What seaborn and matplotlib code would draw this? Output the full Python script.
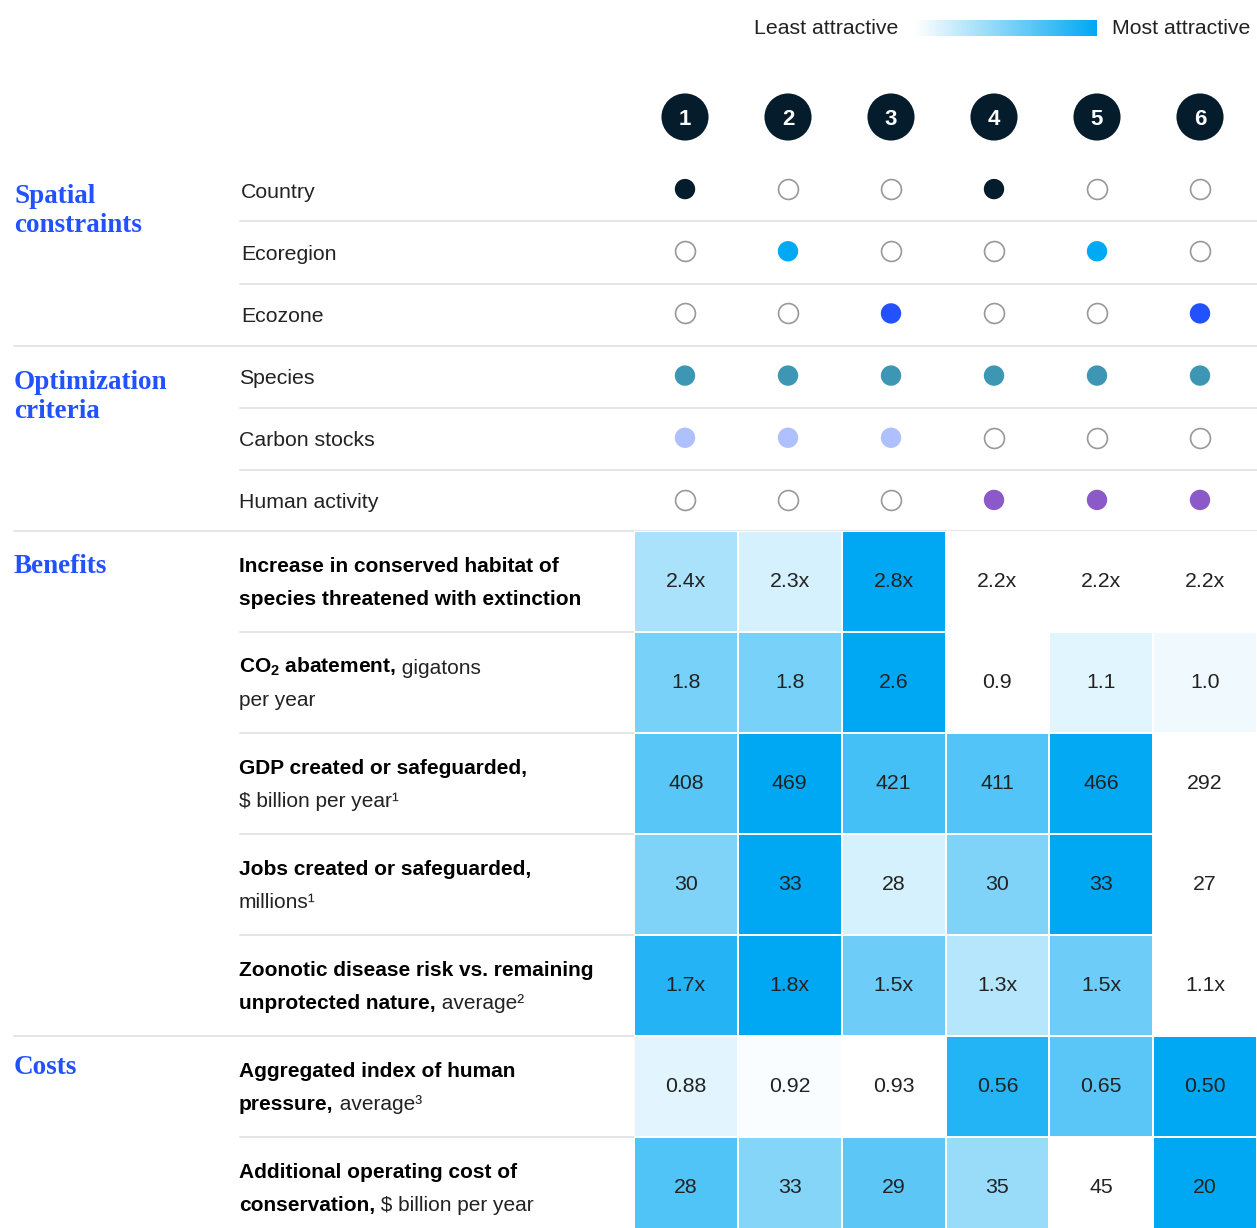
import numpy as np
import pandas as pd
import matplotlib
matplotlib.use('Agg')
import matplotlib.pyplot as plt
from matplotlib.colors import LinearSegmentedColormap
import seaborn as sns

# ---- data -------------------------------------------------------------
scenarios = ['1', '2', '3', '4', '5', '6']

dot_rows = ['Country', 'Ecoregion', 'Ecozone', 'Species', 'Carbon stocks', 'Human activity']
dot_colors = ['#051c2c', '#00a9f4', '#2251ff', '#3c96b4', '#afc0ff', '#8c5ac8']
dot_on = [
    [1, 0, 0, 1, 0, 0],
    [0, 1, 0, 0, 1, 0],
    [0, 0, 1, 0, 0, 1],
    [1, 1, 1, 1, 1, 1],
    [1, 1, 1, 0, 0, 0],
    [0, 0, 0, 1, 1, 1],
]

habitat = [2.4, 2.3, 2.8, 2.2, 2.2, 2.2]
co2 = [1.8, 1.8, 2.6, 0.9, 1.1, 1.0]
gdp = [408, 469, 421, 411, 466, 292]
jobs = [30, 33, 28, 30, 33, 27]
zoonotic = [1.7, 1.8, 1.5, 1.3, 1.5, 1.1]
pressure = [0.88, 0.92, 0.93, 0.56, 0.65, 0.50]
op_cost = [28, 33, 29, 35, 45, 20]

metric_values = [habitat, co2, gdp, jobs, zoonotic, pressure, op_cost]
metric_fmt = ['{:.1f}x', '{:.1f}', '{:.0f}', '{:.0f}', '{:.1f}x', '{:.2f}', '{:.0f}']
# benefits: higher is more attractive; costs: lower is more attractive
metric_higher_better = [True, True, True, True, True, False, False]

# each label: two lines of (bold part, regular part)
metric_labels = [
    [('Increase in conserved habitat of', ''),
     ('species threatened with extinction', '')],
    [(r'$\mathbf{CO_2}$ abatement,', ' gigatons'), ('', 'per year')],
    [('GDP created or safeguarded,', ''), ('', '$ billion per year¹')],
    [('Jobs created or safeguarded,', ''), ('', 'millions¹')],
    [('Zoonotic disease risk vs. remaining', ''),
     ('unprotected nature,', ' average²')],
    [('Aggregated index of human', ''), ('pressure,', ' average³')],
    [('Additional operating cost of', ''),
     ('conservation,', ' $ billion per year')],
]

# ---- style ------------------------------------------------------------
sns.set_theme(style='white')
plt.rcParams['font.family'] = ['Liberation Sans', 'DejaVu Sans']
plt.rcParams['mathtext.fontset'] = 'custom'
plt.rcParams['mathtext.rm'] = 'Liberation Sans'
plt.rcParams['mathtext.it'] = 'Liberation Sans:italic'
plt.rcParams['mathtext.bf'] = 'Liberation Sans:bold'

W, H = 1257, 1228
TXT = '#222222'
BLUE = '#2251ff'
GRID = '#e3e3e3'
cmap = LinearSegmentedColormap.from_list('attr', ['#ffffff', '#00a8f3'])

fig = plt.figure(figsize=(W / 100, H / 100), dpi=100)
fig.patch.set_facecolor('white')


def px_axes(x0, y0, x1, y1):
    # axes placed by pixel box (top-left origin)
    return fig.add_axes([x0 / W, 1 - y1 / H, (x1 - x0) / W, (y1 - y0) / H])


bg = px_axes(0, 0, W, H)
bg.set_xlim(0, W)
bg.set_ylim(H, 0)
bg.axis('off')

# ---- separators -------------------------------------------------------
for y, x0 in [(221, 240), (284, 240), (346, 14), (408, 240), (470, 240), (531, 14)]:
    bg.plot([x0, W], [y, y], color=GRID, lw=1.3, zorder=0)
cell_h = 101
hm_top = 531
for i in range(1, len(metric_values)):
    y = hm_top + i * cell_h
    x0 = 14 if i == 5 else 240
    bg.plot([x0, 636], [y, y], color=GRID, lw=1.3, zorder=0)

# ---- legend -----------------------------------------------------------
bg.text(898, 28, 'Least attractive', ha='right', va='center', fontsize=15.3, color=TXT)
bg.text(1112, 28, 'Most attractive', ha='left', va='center', fontsize=15.3, color=TXT)
lax = px_axes(915, 20, 1097, 36)
lax.imshow(np.linspace(0, 1, 256)[None, :], aspect='auto', cmap=cmap)
lax.axis('off')

# ---- group labels -----------------------------------------------------
serif = dict(family='Liberation Serif', fontweight='bold', fontsize=19.5, color=BLUE,
             ha='left', va='baseline')
bg.text(14, 203, 'Spatial', **serif)
bg.text(14, 232, 'constraints', **serif)
bg.text(14, 389, 'Optimization', **serif)
bg.text(14, 418, 'criteria', **serif)
bg.text(14, 573, 'Benefits', **serif)
bg.text(14, 1074, 'Costs', **serif)

# ---- header circles ---------------------------------------------------
col_x0, col_x1 = 633.5, 1251.5
hax = px_axes(col_x0, 86, col_x1, 148)
hdr = pd.DataFrame({'x': range(len(scenarios)), 'y': [0] * len(scenarios)})
sns.scatterplot(data=hdr, x='x', y='y', s=1150, color='#051c2c', edgecolor='none',
                ax=hax, legend=False)
for i, s in enumerate(scenarios):
    hax.text(i, 0, s, ha='center', va='center_baseline', color='white', fontsize=16,
             fontweight='bold')
hax.set_xlim(-0.5, len(scenarios) - 0.5)
hax.set_ylim(0.5, -0.5)
hax.axis('off')

# ---- dot matrix -------------------------------------------------------
rows = []
for r, name in enumerate(dot_rows):
    for c in range(len(scenarios)):
        rows.append({'x': c, 'y': r, 'row': name, 'on': dot_on[r][c]})
dots = pd.DataFrame(rows)

dax = px_axes(col_x0, 158, col_x1, 531)
sns.scatterplot(data=dots[dots['on'] == 0], x='x', y='y', s=205, color='white',
                edgecolor='#999999', linewidth=1.2, ax=dax, legend=False)
sns.scatterplot(data=dots[dots['on'] == 1], x='x', y='y', hue='row',
                palette=dict(zip(dot_rows, dot_colors)), s=215, edgecolor='none',
                ax=dax, legend=False)
dax.set_xlim(-0.5, len(scenarios) - 0.5)
dax.set_ylim(len(dot_rows) - 0.5, -0.5)
dax.axis('off')
dax.patch.set_alpha(0)

row_h = (531 - 158) / len(dot_rows)
for r, name in enumerate(dot_rows):
    x = 241 if r < 3 else 239
    bg.text(x, 158 + (r + 0.5) * row_h + 3, name, ha='left', va='center',
            fontsize=15.3, color=TXT)

# ---- heatmap ----------------------------------------------------------
attract = []
annots = []
for vals, fmt, hb in zip(metric_values, metric_fmt, metric_higher_better):
    v = np.array(vals, dtype=float)
    a = (v - v.min()) / (v.max() - v.min())
    attract.append(a if hb else 1 - a)
    annots.append([fmt.format(x) for x in vals])
attract = pd.DataFrame(attract, columns=scenarios)
annots = np.array(annots)

n = len(metric_values)
hm = px_axes(634, hm_top, W, hm_top + n * cell_h)
sns.heatmap(attract, cmap=cmap, vmin=0, vmax=1, cbar=False, annot=annots, fmt='',
            annot_kws={'color': TXT, 'fontsize': 15.3}, linewidths=1.2,
            linecolor='white', ax=hm)
hm.set_xticks([])
hm.set_yticks([])
hm.set_xlabel('')
hm.set_ylabel('')


def label_line(y, bold, regular):
    x = 239
    if bold:
        t = bg.text(x, y, bold, ha='left', va='baseline', fontsize=15,
                    fontweight='bold', color='black')
        if regular:
            bg.annotate(regular, xy=(1, 0), xycoords=t, ha='left', va='bottom',
                        fontsize=15, color=TXT)
    else:
        bg.text(x, y, regular, ha='left', va='baseline', fontsize=15, color=TXT)


for i, lines in enumerate(metric_labels):
    top = hm_top + i * cell_h
    for k, (b, r) in enumerate(lines):
        label_line(top + 41 + 33 * k, b, r)

fig.savefig('out.png', dpi=100, facecolor='white')
